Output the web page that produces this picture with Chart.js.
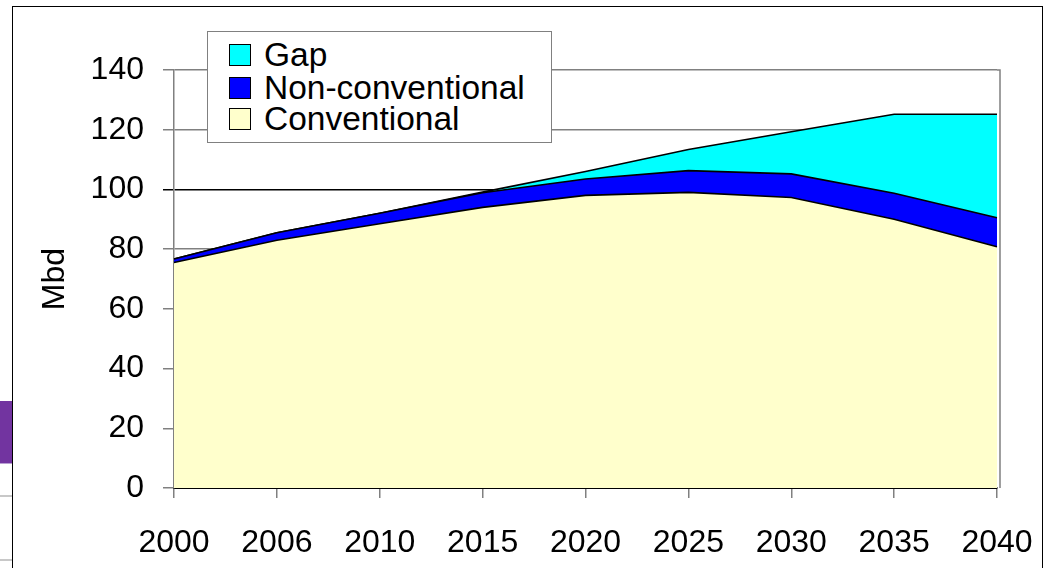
<!DOCTYPE html>
<html><head><meta charset="utf-8">
<script src="https://cdn.jsdelivr.net/npm/chart.js@4.4.0/dist/chart.umd.min.js"></script>
<style>
html,body{margin:0;padding:0;background:#fff;width:1047px;height:568px;overflow:hidden;}
#wrap{position:relative;width:1047px;height:568px;}
canvas{position:absolute;left:0;top:0;}
.deco{position:absolute;pointer-events:none;}
#legend{position:absolute;left:207px;top:31px;width:345px;height:112px;border:1px solid #808080;background:#fff;box-sizing:border-box;font-family:'Liberation Sans',Arial,sans-serif;font-size:33.5px;color:#000;}
.item{position:absolute;left:21px;height:22px;display:flex;align-items:center;white-space:nowrap;}
.sw{width:20px;height:20px;border:1px solid #000;margin-right:13px;flex:none;}
.lbl{line-height:22px;}
</style></head>
<body><div id="wrap">
<canvas id="c" width="1047" height="568"></canvas>
<div class="deco" style="left:12px;top:6px;width:1029px;height:620px;border:1px solid #000;"></div>
<div class="deco" style="left:0;top:401px;width:12px;height:62px;background:#7234a0;"></div>
<div class="deco" style="left:0;top:463px;width:12px;height:1px;background:#b9a0d3;"></div>
<div class="deco" style="left:0;top:495px;width:12px;height:2px;background:#c8c8c8;"></div>
<div class="deco" style="left:0;top:559px;width:12px;height:2px;background:#c8c8c8;"></div>
<div id="legend"></div>
</div>
<script>
const years = ['2000','2006','2010','2015','2020','2025','2030','2035','2040'];
const conventional    = [75.5, 83.0, 88.5, 94.0, 98.0, 99.0, 97.3, 90.0, 80.8];
const nonConventional = [1.2, 2.5, 3.5, 4.9, 5.5, 7.3, 7.9, 8.7, 9.7];
const gap             = [0, 0, 0, 0.2, 2.5, 7.1, 14.1, 26.5, 34.7];
const seriesNames = ['Conventional', 'Non-conventional', 'Gap'];
const seriesColors = ['#FFFFCC', '#0000FF', '#00FFFF'];
const yTitle = 'Mbd';

const FONT = "'Liberation Sans', Arial, sans-serif";
const values = [conventional, nonConventional, gap];
const datasets = values.map((v, i) => ({
  label: seriesNames[i],
  data: v,
  backgroundColor: seriesColors[i],
  borderColor: '#000',
  borderWidth: 1.6,
  fill: i === 0 ? 'origin' : '-1',
  pointRadius: 0,
  tension: 0
}));

const plotBorder = {
  id: 'plotBorder',
  afterDraw(chart) {
    const {ctx, chartArea: a} = chart;
    ctx.save();
    ctx.strokeStyle = '#808080';
    ctx.lineWidth = 1.5;
    ctx.beginPath();
    ctx.moveTo(a.right, a.top);
    ctx.lineTo(a.right + 3, a.top);
    ctx.lineTo(a.right + 3, a.bottom);
    ctx.stroke();
    ctx.restore();
  }
};

const chart = new Chart(document.getElementById('c'), {
  type: 'line',
  data: { labels: years, datasets },
  plugins: [plotBorder],
  options: {
    responsive: false,
    animation: false,
    layout: { padding: { left: 0, top: 70, right: 50, bottom: 0 } },
    plugins: { legend: { display: false }, tooltip: { enabled: false } },
    scales: {
      x: {
        ticks: { font: { family: FONT, size: 32 }, color: '#000', padding: 26, maxRotation: 0, autoSkip: false },
        grid: { drawOnChartArea: false, tickLength: 10, tickColor: '#808080', lineWidth: 1.5 },
        border: { color: '#000', width: 2 },
        afterFit: s => { s.height = 80; s.paddingLeft = 0; s.paddingRight = 0; }
      },
      y: {
        stacked: true,
        min: 0, max: 140,
        ticks: { stepSize: 20, font: { family: FONT, size: 32 }, color: '#000', padding: 19 },
        grid: {
          color: c => (c.tick && c.tick.value === 100) ? '#000' : '#808080',
          lineWidth: 1.5, tickLength: 11
        },
        border: { color: '#808080', width: 1.5 },
        title: { display: true, text: yTitle, font: { family: FONT, size: 32 }, color: '#000', padding: { top: 36, bottom: 0 } },
        afterFit: s => { s.width = 174; }
      }
    }
  }
});

// HTML legend built from the datasets (top entry = last dataset)
const legend = document.getElementById('legend');
const tops = [12, 45, 76];
datasets.slice().reverse().forEach((d, i) => {
  const it = document.createElement('div');
  it.className = 'item';
  it.style.top = tops[i] + 'px';
  const sw = document.createElement('span');
  sw.className = 'sw';
  sw.style.background = d.backgroundColor;
  const t = document.createElement('span');
  t.className = 'lbl';
  t.textContent = d.label;
  it.appendChild(sw); it.appendChild(t);
  legend.appendChild(it);
});
</script>
</body></html>
